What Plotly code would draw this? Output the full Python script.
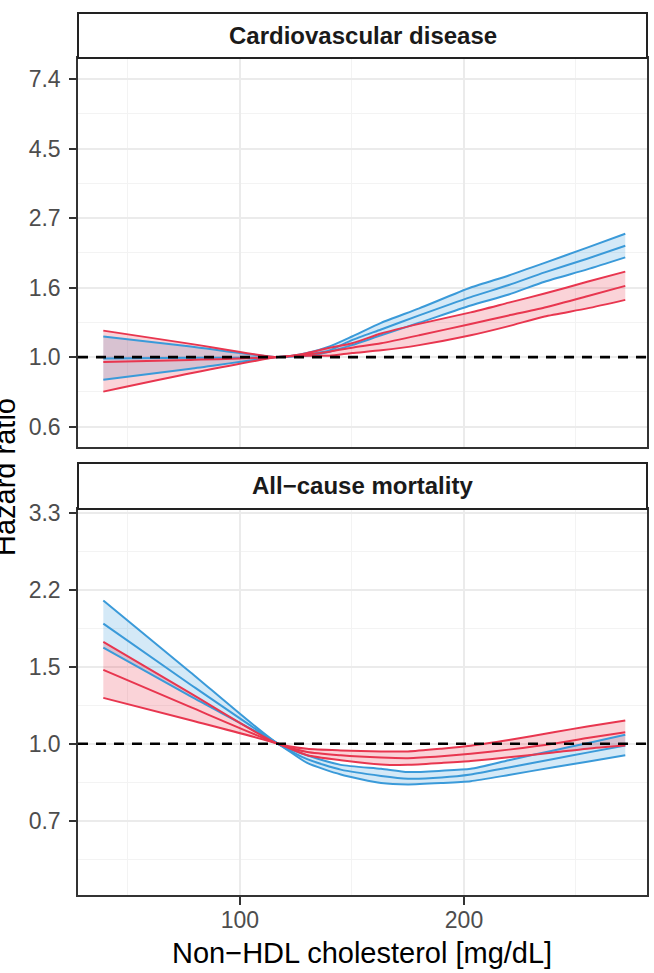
import plotly.graph_objects as go

# ---------------- data ----------------
panel_titles = ["Cardiovascular disease", "All\u2212cause mortality"]

chol_cvd = [39, 78, 117, 130, 140, 150, 163, 180, 203, 220, 236, 255, 272]
cvd_blue_hr = [0.99, 0.995, 1.00, 1.02, 1.05, 1.13, 1.22, 1.35, 1.54, 1.68, 1.84, 2.03, 2.23]
cvd_blue_lo = [0.85, 0.92, 1.00, 1.01, 1.04, 1.09, 1.17, 1.28, 1.45, 1.57, 1.72, 1.88, 2.05]
cvd_blue_hi = [1.16, 1.08, 1.00, 1.03, 1.08, 1.16, 1.28, 1.42, 1.65, 1.80, 1.97, 2.20, 2.43]
cvd_red_hr = [0.965, 0.98, 1.00, 1.02, 1.04, 1.07, 1.105, 1.17, 1.27, 1.35, 1.43, 1.55, 1.67]
cvd_red_lo = [0.78, 0.89, 1.00, 1.01, 1.01, 1.03, 1.05, 1.09, 1.17, 1.25, 1.34, 1.42, 1.51]
cvd_red_hi = [1.21, 1.10, 1.00, 1.03, 1.07, 1.105, 1.185, 1.27, 1.38, 1.48, 1.58, 1.72, 1.85]

chol_acm = [39, 78, 117, 130, 145, 163, 175, 190, 203, 220, 240, 255, 272]
acm_blue_hr = [1.87, 1.36, 1.00, 0.923, 0.874, 0.846, 0.834, 0.839, 0.852, 0.884, 0.924, 0.955, 0.991]
acm_blue_lo = [1.65, 1.28, 1.00, 0.905, 0.852, 0.815, 0.809, 0.815, 0.823, 0.850, 0.885, 0.911, 0.942]
acm_blue_hi = [2.11, 1.45, 1.00, 0.942, 0.896, 0.878, 0.863, 0.869, 0.878, 0.918, 0.966, 1.003, 1.048]
acm_red_hr = [1.47, 1.21, 1.00, 0.958, 0.942, 0.931, 0.928, 0.937, 0.949, 0.970, 1.000, 1.030, 1.062]
acm_red_lo = [1.27, 1.13, 1.00, 0.942, 0.918, 0.898, 0.896, 0.905, 0.914, 0.932, 0.956, 0.975, 0.991]
acm_red_hi = [1.70, 1.30, 1.00, 0.974, 0.966, 0.961, 0.961, 0.975, 0.990, 1.020, 1.062, 1.094, 1.129]

reference_hr = 1.0

x_tickvals = [100, 200]
x_ticktext = ["100", "200"]
x_minor = [50, 150, 250]

cvd_tickvals = [0.6065, 1.0, 1.6487, 2.7183, 4.4817, 7.3891]
cvd_ticktext = ["0.6", "1.0", "1.6", "2.7", "4.5", "7.4"]
cvd_minor = [0.7788, 1.2840, 2.1170, 3.4903, 5.7546]

acm_tickvals = [0.6703, 1.0, 1.4918, 2.2255, 3.3201]
acm_ticktext = ["0.7", "1.0", "1.5", "2.2", "3.3"]
acm_minor = [0.5488, 0.8187, 1.2214, 1.8221, 2.7183]

x_title = "Non\u2212HDL cholesterol [mg/dL]"
y_title = "Hazard ratio"

# ---------------- styling / layout ----------------
W, H = 654, 973
ML, MR, MT, MB = 78, 7, 13, 78
PH = H - MT - MB
PW = W - ML - MR
FONT = "Liberation Sans, Arial, sans-serif"
BLUE = "#3A9AD9"
RED = "#E8364F"
BLUE_FILL = "rgba(58,154,217,0.22)"
RED_FILL = "rgba(232,54,79,0.22)"
GRID = "#EBEBEB"
BORDER = "#333333"


def py(px):
    return (H - MB - px) / PH


def pxx(px):
    return (px - ML) / PW


x_range = [27.7, 281.7]
cvd_range = [-0.281, 0.935]   # log10
acm_range = [-0.342, 0.531]   # log10

fig = go.Figure()


def add_panel(xs, groups, xa, ya):
    # ribbons
    for lo, hi, hr, col, fillc in groups:
        fig.add_trace(go.Scatter(x=xs, y=lo, mode="lines", line=dict(width=0, shape="spline", smoothing=0.6),
                                 xaxis=xa, yaxis=ya, hoverinfo="skip", showlegend=False))
        fig.add_trace(go.Scatter(x=xs, y=hi, mode="lines", line=dict(width=0, shape="spline", smoothing=0.6),
                                 fill="tonexty", fillcolor=fillc,
                                 xaxis=xa, yaxis=ya, hoverinfo="skip", showlegend=False))
    # lines
    for lo, hi, hr, col, fillc in groups:
        for ys in (lo, hr, hi):
            fig.add_trace(go.Scatter(x=xs, y=ys, mode="lines",
                                     line=dict(color=col, width=2, shape="spline", smoothing=0.6),
                                     xaxis=xa, yaxis=ya, showlegend=False))
    # reference line
    fig.add_trace(go.Scatter(x=x_range, y=[reference_hr, reference_hr], mode="lines",
                             line=dict(color="black", width=2.6, dash="10px,8px"),
                             xaxis=xa, yaxis=ya, showlegend=False))


add_panel(chol_cvd,
          [(cvd_blue_lo, cvd_blue_hi, cvd_blue_hr, BLUE, BLUE_FILL),
           (cvd_red_lo, cvd_red_hi, cvd_red_hr, RED, RED_FILL)],
          "x", "y")
add_panel(chol_acm,
          [(acm_blue_lo, acm_blue_hi, acm_blue_hr, BLUE, BLUE_FILL),
           (acm_red_lo, acm_red_hi, acm_red_hr, RED, RED_FILL)],
          "x2", "y2")

tickfont = dict(family=FONT, size=23, color="#4D4D4D")

common_x = dict(range=x_range, showline=True, mirror=True, linecolor=BORDER, linewidth=1.5,
                showgrid=True, gridcolor=GRID, gridwidth=1.5, zeroline=False,
                tickmode="array", tickvals=x_tickvals, ticktext=x_ticktext,
                minor=dict(tickvals=x_minor, showgrid=True, gridcolor="#F3F3F3", gridwidth=1, ticks=""),
                tickfont=tickfont, domain=[0, 1])
common_y = dict(type="log", showline=True, mirror=True, linecolor=BORDER, linewidth=1.5,
                showgrid=True, gridcolor=GRID, gridwidth=1.5, zeroline=False,
                ticks="outside", ticklen=7, tickwidth=1.5, tickcolor=BORDER,
                tickmode="array", tickfont=tickfont, ticklabelstandoff=4)

fig.update_layout(
    width=W, height=H,
    margin=dict(l=ML, r=MR, t=MT, b=MB, autoexpand=False),
    paper_bgcolor="white", plot_bgcolor="white",
    showlegend=False,
    xaxis=dict(**common_x, anchor="y", showticklabels=False, ticks=""),
    yaxis=dict(**common_y, range=cvd_range, domain=[py(447), py(58)],
               tickvals=cvd_tickvals, ticktext=cvd_ticktext,
               minor=dict(tickvals=cvd_minor, showgrid=True, gridcolor="#F3F3F3", gridwidth=1, ticks="")),
    xaxis2=dict(**common_x, anchor="y2", matches="x", ticks="outside", ticklen=8, tickwidth=1.5,
                tickcolor=BORDER, ticklabelstandoff=-4),
    yaxis2=dict(**common_y, range=acm_range, domain=[0, py(509)],
                tickvals=acm_tickvals, ticktext=acm_ticktext,
                minor=dict(tickvals=acm_minor, showgrid=True, gridcolor="#F3F3F3", gridwidth=1, ticks="")),
)

# facet strips
shapes = []
annotations = []
for (top, bot), title in zip([(13, 58), (463, 509)], panel_titles):
    shapes.append(dict(type="rect", xref="paper", yref="paper", x0=0, x1=1, y0=py(bot), y1=py(top),
                       fillcolor="white", line=dict(color="#222222", width=2), layer="above"))
    annotations.append(dict(text="<b>%s</b>" % title, xref="paper", yref="paper", x=0.5,
                            y=(py(top) + py(bot)) / 2, xanchor="center", yanchor="middle",
                            showarrow=False, font=dict(family=FONT, size=24, color="#1A1A1A")))

annotations.append(dict(text=x_title, xref="paper", yref="paper", x=pxx(362), y=py(953),
                        xanchor="center", yanchor="middle", showarrow=False,
                        font=dict(family=FONT, size=29, color="black")))
annotations.append(dict(text=y_title, xref="paper", yref="paper", x=pxx(5), y=py(477),
                        xanchor="center", yanchor="middle", textangle=-90, showarrow=False,
                        font=dict(family=FONT, size=29, color="black")))

fig.update_layout(shapes=shapes, annotations=annotations)

fig.write_html("out.html")
